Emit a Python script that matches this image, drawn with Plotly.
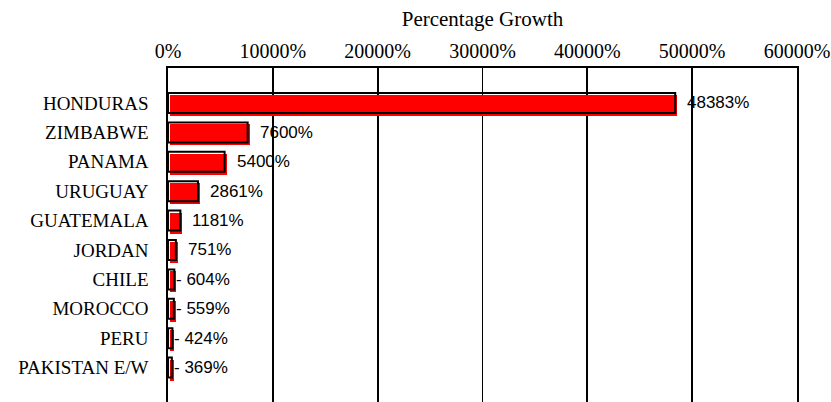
import plotly.graph_objects as go

countries = ["HONDURAS", "ZIMBABWE", "PANAMA", "URUGUAY", "GUATEMALA",
             "JORDAN", "CHILE", "MOROCCO", "PERU", "PAKISTAN E/W"]
growth = [48383, 7600, 5400, 2861, 1181, 751, 604, 559, 424, 369]
labels = ["48383%", "7600%", "5400%", "2861%", "1181%",
          "751%", "604%", "559%", "424%", "369%"]
leader = [False, False, False, False, False, False, True, True, True, True]
tick_vals = [0, 10000, 20000, 30000, 40000, 50000, 60000]
tick_text = ["0%", "10000%", "20000%", "30000%", "40000%", "50000%", "60000%"]

W, H = 831, 402
ML, MR, MT, MB = 168, 34, 68, 0
xmax = 60000
px_unit = xmax / (W - ML - MR)
shadow = 2 * px_unit

SERIF = "Liberation Serif, Times New Roman, serif"
SANS = "Liberation Sans, Arial, sans-serif"

fig = go.Figure()
# red filled bars (shadow layer, slightly offset right/down)
fig.add_trace(go.Bar(
    y=countries, x=growth, orientation="h", xaxis="x", yaxis="y",
    marker=dict(color="#FF0000", line=dict(width=0)),
    width=0.72, offset=-0.275, hoverinfo="skip", showlegend=False))
# black outline bars on top
fig.add_trace(go.Bar(
    y=countries, x=growth, orientation="h", xaxis="x2", yaxis="y",
    marker=dict(color="rgba(0,0,0,0)", line=dict(color="black", width=2)),
    width=0.68, offset=-0.34, hoverinfo="skip", showlegend=False))

for c, v, t, ld in zip(countries, growth, labels, leader):
    fig.add_annotation(
        x=v, y=c, xref="x2", yref="y", xanchor="left", yanchor="middle",
        text=("- " + t) if ld else t, showarrow=False,
        xshift=0 if ld else 10,
        font=dict(family=SANS, size=17, color="black"))

fig.update_layout(
    width=W, height=H, margin=dict(l=ML, r=MR, t=MT, b=MB, autoexpand=False),
    paper_bgcolor="white", plot_bgcolor="white",
    barmode="overlay", bargap=0,
    title=dict(text="Percentage Growth", x=0.5, xref="paper", xanchor="center",
               y=1 - 19 / H, yref="container", yanchor="middle",
               font=dict(family=SERIF, size=21, color="black")),
    xaxis=dict(range=[-shadow, xmax - shadow], visible=False, showgrid=False,
               zeroline=False, automargin=False),
    xaxis2=dict(range=[0, xmax], overlaying="x", side="top", anchor="y",
                tickvals=tick_vals, ticktext=tick_text, automargin=False,
                showgrid=True, gridcolor="black", gridwidth=1.7,
                zeroline=False, showline=True, linecolor="black", linewidth=1.7,
                ticks="", ticklen=0,
                tickfont=dict(family=SERIF, size=20, color="black")),
    yaxis=dict(type="category", categoryorder="array", categoryarray=countries,
               range=[10.17, -1.19], showgrid=False, zeroline=False,
               automargin=False,
               showline=True, mirror=True, linecolor="black", linewidth=1.7,
               ticks="outside", ticklen=14, tickcolor="rgba(0,0,0,0)",
               tickfont=dict(family=SERIF, size=19, color="black")),
)

fig.write_html("out.html",
               config={"displayModeBar": False, "staticPlot": True},
               post_script="document.body.style.margin='0';"
                           "document.body.style.overflow='hidden';")
